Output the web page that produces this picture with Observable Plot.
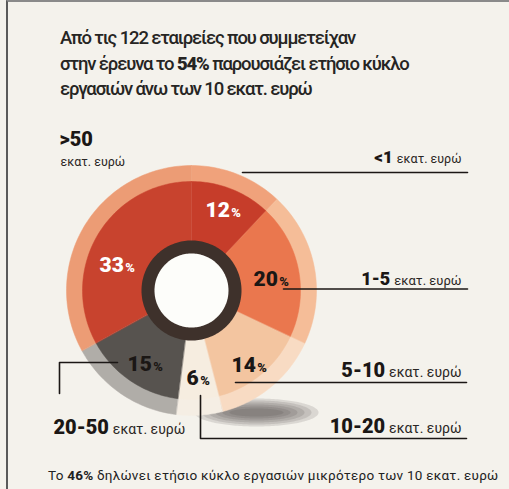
<!DOCTYPE html>
<html><head><meta charset="utf-8">
<script src="https://cdn.jsdelivr.net/npm/d3@7"></script>
<script src="https://cdn.jsdelivr.net/npm/@observablehq/plot@0.6"></script>
<style>
html,body{margin:0;padding:0;background:#f4f2ec;}
#wrap{position:relative;width:509px;height:489px;overflow:hidden;background:#f4f2ec;}
#chart{position:absolute;left:0;top:0;}
#frame{position:absolute;left:6px;top:0;width:503px;height:489px;border-left:2px solid #5a5a5a;border-top:2px solid #8a8a8a;box-sizing:border-box;pointer-events:none;}
#title{position:absolute;left:60px;top:26px;color:#262523;font-family:Roboto,sans-serif;font-weight:500;line-height:25.5px;white-space:nowrap;}
#title b{font-weight:900;}
#footer{position:absolute;left:48px;top:467px;color:#222;font-family:Roboto,sans-serif;font-weight:400;white-space:nowrap;}
#footer b{font-weight:700;}
</style></head><body>
<div id="wrap"><div id="chart"></div><div id="frame"></div><div id="title"></div><div id="footer"></div></div>
<script>
// ---- data ----
const categories = ["<1", "1-5", "5-10", "10-20", "20-50", ">50"];
const shares = [12, 20, 14, 6, 15, 33];
const unitLabel = "εκατ. ευρώ";
const titleLines = ["Από τις 122 εταιρείες που συμμετείχαν", "στην έρευνα το |54%| παρουσιάζει ετήσιο κύκλο", "εργασιών άνω των 10 εκατ. ευρώ"];
const footerText = "Το |46%| δηλώνει ετήσιο κύκλο εργασιών μικρότερο των 10 εκατ. ευρώ";

// ---- styles ----
const mainColors = ["#c63d2a", "#ea774e", "#f3c5a0", "#f6ede0", "#57534f", "#c8432e"];
const bandColors = ["#f0a27b", "#f5bd98", "#f8dbc3", "#f5eee4", "#b0ada8", "#ec9c75"];
const pctColors = ["#ffffff", "#1b1715", "#1b1715", "#1b1715", "#1b1715", "#ffffff"];

const W = 509, H = 489;
const cx = 191, cy = 290;
const rHole = 37, rDark = 50, rMain = 109, rBand = 125;

const ctx = document.createElement("canvas").getContext("2d");
function measure(text, size, weight, family, ls = 0) {
  ctx.font = `${weight} ${size}px ${family}`;
  return ctx.measureText(text).width + ls * text.length;
}
function fitLetterSpacing(text, size, weight, family, target) {
  const w = measure(text, size, weight, family);
  return (target - w) / text.length;
}

// ---- title / footer (HTML) ----
const tSize = 18.5, tFam = "Roboto";
const tLs = Math.max(-1.2, Math.min(1, fitLetterSpacing(titleLines[0], tSize, 500, tFam, 295)));
const title = document.getElementById("title");
title.style.fontSize = tSize + "px";
title.style.letterSpacing = tLs + "px";
title.innerHTML = titleLines.map(l => l.split("|").map((s, i) => i % 2 ? `<b>${s}</b>` : s).join("")).join("<br>");
const fSize = 13.5, fFam = "Roboto";
const fLs = Math.max(-1, Math.min(1, fitLetterSpacing(footerText.replace(/\|/g, ""), fSize, 400, fFam, 450)));
const footer = document.getElementById("footer");
footer.style.fontSize = fSize + "px";
footer.style.letterSpacing = fLs + "px";
footer.innerHTML = footerText.split("|").map((s, i) => i % 2 ? `<b>${s}</b>` : s).join("");

// ---- geometry ----
function sector(a0, a1, r0, r1, props) {
  const n = Math.max(8, Math.ceil((a1 - a0) / (Math.PI / 120)));
  const pts = [];
  for (let i = 0; i <= n; i++) { const a = a0 + (a1 - a0) * i / n; pts.push([cx + r1 * Math.sin(a), cy - r1 * Math.cos(a)]); }
  for (let i = n; i >= 0; i--) { const a = a0 + (a1 - a0) * i / n; pts.push([cx + r0 * Math.sin(a), cy - r0 * Math.cos(a)]); }
  pts.push(pts[0]);
  return {type: "Feature", properties: props, geometry: {type: "Polygon", coordinates: [pts]}};
}
function disc(r, rx = r, ox = cx, oy = cy, props = {}) {
  const pts = d3.range(0, 181).map(i => { const a = i / 180 * 2 * Math.PI; return [ox + rx * Math.sin(a), oy - r * Math.cos(a)]; });
  pts.push(pts[0]);
  return {type: "Feature", properties: props, geometry: {type: "Polygon", coordinates: [pts]}};
}
const total = d3.sum(shares);
let acc = 0;
const angles = shares.map(v => { const a0 = acc / total * 2 * Math.PI; acc += v; return [a0, acc / total * 2 * Math.PI]; });
const bands = categories.map((c, i) => sector(angles[i][0], angles[i][1], rMain - 1, rBand, {fill: bandColors[i]}));
const slices = categories.map((c, i) => sector(angles[i][0], angles[i][1], rDark - 1, rMain, {fill: mainColors[i]}));

// ---- label layout ----
const boldFam = "Roboto", unitFam = "Roboto";
const rightLabels = [
  {cat: "<1", end: 461, y: 162, bs: 17, us: 12.5},
  {cat: "1-5", end: 461, y: 284, bs: 18, us: 13},
  {cat: "5-10", end: 461, y: 376, bs: 20, us: 14},
  {cat: "10-20", end: 461, y: 432, bs: 20, us: 14}
];
const labelTexts = [];
for (const L of rightLabels) {
  const uw = measure(unitLabel, L.us, 400, unitFam);
  labelTexts.push({t: unitLabel, x: L.end, y: L.y, s: L.us, w: 400, anchor: "end"});
  labelTexts.push({t: L.cat, x: L.end - uw - 4, y: L.y, s: L.bs, w: 900, anchor: "end"});
}
{ // 20-50 left
  const bw = measure("20-50", 20, 900, boldFam);
  labelTexts.push({t: "20-50", x: 53, y: 433, s: 20, w: 900, anchor: "start"});
  labelTexts.push({t: unitLabel, x: 53 + bw + 4, y: 433, s: 14, w: 400, anchor: "start"});
}
labelTexts.push({t: ">50", x: 59, y: 145, s: 20, w: 900, anchor: "start"});
labelTexts.push({t: unitLabel, x: 60, y: 165, s: 12.5, w: 400, anchor: "start"});

const pctPos = {"<1": [205, 216], "1-5": [253, 285], "5-10": [231, 371], "10-20": [186, 384], "20-50": [127, 370], ">50": [99, 271]};
const pctTexts = [];
categories.forEach((c, i) => {
  const [x, y] = pctPos[c];
  const num = String(shares[i]);
  const nw = measure(num, 21, 900, boldFam);
  pctTexts.push({t: num, x, y, s: 21, w: 900, fill: pctColors[i]});
  pctTexts.push({t: "%", x: x + nw + 1.5, y, s: 13, w: 900, fill: pctColors[i]});
});

const leaderLines = [
  [[242, 172], [467, 172]],
  [[283, 288.5], [467, 288.5]],
  [[235, 382], [466, 382]],
  [[200, 395], [200, 438], [466, 438]],
  [[59, 393], [59, 362], [117, 362]]
].map(c => ({type: "Feature", properties: {}, geometry: {type: "LineString", coordinates: c}}));

const frameRect = {type: "Polygon", coordinates: [[[0, 0], [W, 0], [W, H], [0, H], [0, 0]]]};
// soft shadow under the ring: stacked translucent ellipses
const shadowLayers = d3.range(6).map(k => disc(14 - k * 2, 62 - k * 7, 256, 412));

function textMarks(arr, weight, extra = {}) {
  const groups = d3.groups(arr.filter(d => d.w === weight), d => d.anchor || "start");
  return groups.map(([anchor, data]) => Plot.text(data, {
    x: "x", y: "y", text: "t", fontSize: "s", textAnchor: anchor, lineAnchor: "bottom",
    fontFamily: weight === 900 ? boldFam : unitFam, fontWeight: weight, fill: d => d.fill || "#1b1715", ...extra
  }));
}

const plot = Plot.plot({
  width: W, height: H, margin: 0,
  projection: {type: "identity", domain: frameRect},
  color: {type: "identity"},
  style: {background: "transparent", overflow: "visible"},
  marks: [
    Plot.geo(shadowLayers, {fill: "#3f3c38", fillOpacity: 0.14}),
    Plot.geo(bands, {fill: d => d.properties.fill, stroke: d => d.properties.fill, strokeWidth: 0.5}),
    Plot.geo(slices, {fill: d => d.properties.fill, stroke: d => d.properties.fill, strokeWidth: 0.5}),
    Plot.geo([disc(rDark)], {fill: "#3e312b"}),
    Plot.geo([disc(rHole)], {fill: "#fdfdfa"}),
    Plot.geo(leaderLines, {stroke: "#1b1715", strokeWidth: 1.6, fill: "none"}),
    ...textMarks(labelTexts, 900),
    ...textMarks(labelTexts, 400, {fill: "#2a2624"}),
    ...textMarks(pctTexts, 900)
  ]
});
document.getElementById("chart").appendChild(plot);
</script>
</body></html>
